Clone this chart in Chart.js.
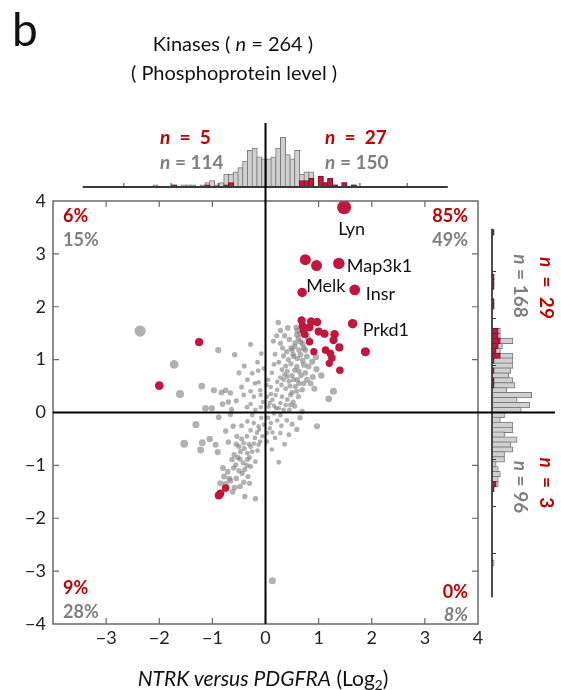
<!DOCTYPE html>
<html><head><meta charset="utf-8">
<script src="https://cdn.jsdelivr.net/npm/chart.js@4.4.1/dist/chart.umd.min.js"></script>
<style>
html,body{margin:0;padding:0;background:#fff;}
#wrap{position:relative;width:561px;height:690px;overflow:hidden;font-family:Lato,"Liberation Sans",sans-serif;}
canvas{position:absolute;}
.t{position:absolute;white-space:nowrap;line-height:1;}
.c{transform:translate(-50%,-50%);}
.l{transform:translate(0,-50%);}
.r{transform:translate(-100%,-50%);}
.rot{transform:translate(-50%,-50%) rotate(90deg);}
.red{color:#C00000;font-weight:bold;font-size:18px;}
.gry{color:#7F7F7F;font-weight:bold;font-size:18px;}
.big{font-size:19px;}
sub{font-size:0.65em;vertical-align:-0.3em;line-height:0;}
</style></head><body>
<div id="wrap">
<canvas id="topHist" width="425" height="70" style="left:53px;top:120px;width:425px;height:70px"></canvas>
<canvas id="rightHist" width="72" height="423" style="left:489px;top:201px;width:72px;height:423px"></canvas>
<canvas id="main" width="561" height="690" style="left:0;top:0;width:561px;height:690px"></canvas>

<div class="t" style="left:12px;top:6px;font-size:46px;color:#111">b</div>
<div class="t c" style="left:233px;top:43px;font-size:20px;color:#111">Kinases ( <i>n</i> = 264 )</div>
<div class="t c" style="left:234px;top:72px;font-size:20px;color:#111">( Phosphoprotein level )</div>

<div class="t l red big" style="left:160px;top:136px"><i>n</i>&nbsp;&nbsp;=&nbsp;&nbsp;5</div>
<div class="t l gry big" style="left:160px;top:161px"><i>n</i> = 114</div>
<div class="t l red big" style="left:325px;top:136px"><i>n</i>&nbsp; =&nbsp; 27</div>
<div class="t l gry big" style="left:325px;top:161px"><i>n</i> = 150</div>

<div class="t rot red big" style="left:547px;top:288px"><i>n</i>&nbsp; =&nbsp; 29</div>
<div class="t rot gry big" style="left:521px;top:286px"><i>n</i> = 168</div>
<div class="t rot red big" style="left:547px;top:483px"><i>n</i>&nbsp; =&nbsp; 3</div>
<div class="t rot gry big" style="left:521px;top:487px"><i>n</i> = 96</div>

<div class="t l red" style="left:63px;top:215px">6%</div>
<div class="t l gry" style="left:63px;top:239px">15%</div>
<div class="t r red" style="left:468px;top:215px">85%</div>
<div class="t r gry" style="left:468px;top:239px">49%</div>
<div class="t l red" style="left:63px;top:587px">9%</div>
<div class="t l gry" style="left:63px;top:611px">28%</div>
<div class="t r red" style="left:468px;top:591px">0%</div>
<div class="t r gry" style="left:468px;top:614px"><i>8%</i></div>

<div class="t c" style="left:263px;top:677px;font-size:21px;color:#111"><i>NTRK versus PDGFRA</i> (Log<sub>2</sub>)</div>
</div>

<script>
// ---------------- DATA ----------------
// Highlighted kinases (red); first entries carry the gene labels
const hitNames = ['Lyn', 'Map3k1', 'Melk', 'Insr', 'Prkd1'];
const hitPts = [
  [1.48,3.88],[1.38,2.82],[0.69,2.27],[1.68,2.32],[1.64,1.68],
  [0.75,2.89],[0.96,2.78],[1.88,1.15],[0.68,1.74],[0.86,1.72],
  [0.97,1.71],[0.70,1.63],[0.83,1.61],[0.74,1.48],[1.00,1.53],
  [1.11,1.49],[1.30,1.48],[1.28,1.37],[0.83,1.34],[0.91,1.15],
  [1.13,1.18],[1.22,1.12],[1.39,1.23],[1.25,1.03],[1.20,0.93],
  [1.40,0.80],[0.72,1.55],
  [-1.25,1.33],[-2.00,0.51],
  [-0.75,-1.43],[-0.88,-1.57],[-0.85,-1.53]
];
// All other kinases (gray)
const otherPts = [
  [0.24,1.70],[0.58,1.61],[0.28,1.55],[0.21,1.45],[0.36,1.45],[0.59,1.47],[0.28,1.31],[0.56,1.32],[0.66,1.34],[-0.28,1.29],
  [-0.89,1.18],[-0.58,1.09],[-1.72,0.91],[-0.08,1.11],[0.50,1.18],[0.63,1.18],[0.72,1.22],[0.34,1.07],[0.43,1.00],[0.53,1.06],
  [0.66,1.09],[0.78,1.06],[0.88,0.96],[0.96,0.82],[0.25,0.95],[0.16,0.91],[0.31,0.81],[0.41,0.78],[0.59,0.87],[0.72,0.90],
  [0.81,0.87],[0.63,0.78],[-0.03,0.83],[-0.14,0.79],[-0.25,0.74],[-0.34,0.62],[-0.13,0.57],[0.02,0.52],[0.34,0.62],[0.44,0.59],
  [0.53,0.62],[0.63,0.55],[0.78,0.62],[0.89,0.67],[0.41,0.68],[0.22,0.43],[0.19,0.33],[0.31,0.30],[0.47,0.33],[0.59,0.40],
  [0.69,0.43],[1.28,0.40],[1.19,0.26],[0.56,0.49],[0.41,0.24],[0.38,0.14],[0.13,0.24],[0.03,0.30],[-0.09,0.33],[-0.22,0.30],
  [-0.28,0.40],[-0.41,0.33],[-0.66,0.37],[-0.75,0.42],[-0.83,0.38],[-0.97,0.42],[-1.61,0.35],[-0.81,0.16],[-0.64,0.06],[-1.13,0.08],
  [-1.01,0.08],[-0.28,0.16],[-0.19,0.05],[-0.09,0.10],[0.06,0.11],[0.16,0.13],[0.25,0.08],[0.34,0.05],[0.47,0.14],[0.69,0.02],
  [-2.36,1.54],
  [0.60,1.55],[0.62,1.40],[0.55,1.25],[0.48,1.22],[0.70,1.30],[0.66,1.50],[0.45,1.38],[0.52,1.10],[0.60,1.02],[0.70,0.98],
  [0.48,0.92],[0.38,0.88],[0.55,0.80],[0.67,0.70],[0.50,0.70],[0.36,0.72],[0.28,0.66],[0.46,0.50],[0.38,0.45],[0.30,0.52],
  [0.62,0.30],[0.52,0.20],[0.28,0.18],[0.20,0.08],[0.10,0.35],[0.08,0.18],[0.45,0.05],[0.55,0.12],[0.75,0.75],[0.85,0.55],
  [0.92,0.45],[0.72,0.55],[0.60,0.62],[0.40,1.15],[0.32,1.22],[0.18,1.10],[0.12,0.75],[0.22,0.58],[0.05,0.62],[0.10,0.48],
  [0.80,1.40],[0.75,1.18],[0.95,1.05],[1.05,0.70],[0.15,1.35],[0.42,1.60],[0.50,0.38],
  [-0.20,0.55],[-0.45,0.48],[-0.10,0.42],[-0.55,0.22],[-0.35,0.10],[-0.05,0.20],[-0.15,0.95],[-0.50,0.75],[-1.20,0.50],[-0.70,0.20],[-0.40,0.88],
  [0.16,-0.02],[-0.66,-0.04],[-0.88,-0.09],[-1.31,-0.23],[-1.53,-0.59],[-1.19,-0.57],[-1.22,-0.71],[-0.94,-0.61],[-0.70,-0.56],[-0.61,-0.26],
  [-0.34,-0.17],[-0.22,-0.20],[-0.13,-0.26],[-0.03,-0.23],[-0.28,-0.34],[-0.16,-0.38],[-0.06,-0.45],[0.03,-0.39],[0.13,-0.38],[0.28,-0.39],
  [0.44,-0.42],[0.59,-0.32],[0.97,-0.26],[0.36,-0.60],[0.25,-0.94],[-0.54,-0.45],[-0.50,-0.64],[-0.41,-0.58],[-0.31,-0.60],[-0.22,-0.59],
  [-0.13,-0.61],[-0.47,-0.74],[-0.34,-0.77],[-0.25,-0.74],[-0.59,-0.80],[-0.63,-0.89],[-0.48,-0.88],[-0.34,-0.89],[-0.19,-0.93],[-0.56,-0.99],
  [-0.39,-1.08],[-0.28,-1.02],[-0.71,-1.12],[-0.44,-1.15],[-0.78,-1.21],[-0.33,-1.21],[-0.66,-1.29],[-0.85,-1.34],[-0.41,-1.32],[-0.30,-1.34],
  [-0.58,-1.42],[-0.39,-1.59],[-0.19,-1.63],[0.13,-3.18],
  [-0.45,-0.50],[-0.35,-0.45],[-0.20,-0.48],[-0.10,-0.55],[-0.55,-0.60],[-0.40,-0.68],[-0.28,-0.65],[-0.15,-0.72],[-0.52,-0.85],[-0.42,-0.95],
  [-0.30,-0.85],[-0.60,-1.05],[-0.50,-1.10],[-0.35,-1.00],[-0.68,-1.25],[-0.55,-1.25],[-0.75,-1.35],[-0.48,-1.40],[-0.62,-1.50],[-0.80,-1.05],
  [-0.90,-0.75],[-1.05,-0.50],[-0.75,-0.35],[-0.45,-0.25],[-0.08,-0.10],[-0.25,-0.05],[-0.12,-0.32],
  [0.05,-0.10],[0.10,-0.20],[0.22,-0.15],[0.30,-0.25],[0.08,-0.30],[0.18,-0.48],[0.40,-0.15],[0.50,-0.22],[0.03,-0.55],[0.12,-0.70],[0.65,-0.10],[0.28,-0.05]
];
// Top histogram (x distribution): bin centers, counts of all kinases, counts of highlighted kinases
const topBinCenters = [-2.33,-1.93,-1.73,-1.63,-1.53,-1.33,-1.23,-1.13,-1.03,-0.93,-0.83,-0.73,-0.63,-0.53,-0.43,-0.33,-0.23,-0.13,-0.03,
  0.07,0.17,0.27,0.37,0.47,0.57,0.67,0.77,0.87,0.97,1.17,1.27,1.37,1.47,1.67,1.87];
const topAllCounts  = [1,1,1,1,1,1,2,3,1,2,6,6,7,9,12,17,18,14,13, 13,14,18,23,15,13,17,6,7,7,5,2,4,1,2,1];
const topHitCounts  = [0,1,0,0,0,0,1,0,0,0,1,2,0,0,0,0,0,0,0, 0,0,0,0,0,0,0,3,3,4,5,2,4,1,2,1];
// Right histogram (y distribution)
const rightBinCenters = [3.8325,2.8875,2.7825,2.6775,2.3625,2.2575,1.7325,1.6275,1.5225,1.4175,1.3125,1.2075,1.1025,0.9975,0.8925,0.7875,0.6825,0.5775,0.4725,0.3675,0.2625,0.1575,0.0525,
  -0.0525,-0.1575,-0.2625,-0.3675,-0.4725,-0.5775,-0.6825,-0.7875,-0.8925,-0.9975,-1.1025,-1.2075,-1.3125,-1.4175,-1.5225,-1.6275,-3.2025];
const rightAllCounts = [1,1,1,1,1,1,4,4,10,5,4,10,10,10,9,8,10,11,7,19,12,18,14,
  6,4,10,10,6,12,9,10,6,6,2,3,4,3,3,1,1];
const rightHitCounts = [1,1,1,1,1,1,3,3,4,3,2,4,1,0,1,0,1,1,0,0,0,0,0,
  0,0,0,0,0,0,0,0,0,0,0,0,0,0,2,1,0];
const axisTicks = [-3,-2,-1,0,1,2,3];

// ---------------- STYLE ----------------
const FONT = 'Lato, "Liberation Sans", sans-serif';
const RED = '#C4163C', RED_EDGE = '#7d0f28';
const GRAY_FILL = '#d0d0d0', GRAY_EDGE = '#7a7a7a';
const fmt = v => v < 0 ? '\u2212' + Math.abs(v) : String(v);
const labelOffsets = {Lyn:[-6,22], Map3k1:[8,3], Melk:[4,-6], Insr:[11,4], Prkd1:[10,7]};
// marker size grows with distance from the origin
const wdist = p => Math.hypot(p.x, 0.4 * p.y);
const rdist = p => Math.hypot(p.x, p.y);

const common = {responsive:false, animation:false, devicePixelRatio:1, events:[],
  plugins:{legend:{display:false}, tooltip:{enabled:false}}};

// ---------------- MAIN SCATTER ----------------
const mainDecor = {
  id:'mainDecor',
  afterDatasetsDraw(chart){
    const {ctx, chartArea:a, scales:{x, y}} = chart;
    ctx.save();
    ctx.strokeStyle = '#6a6a6a'; ctx.lineWidth = 1.5;
    ctx.strokeRect(a.left, a.top, a.right - a.left, a.bottom - a.top);
    ctx.lineWidth = 1.2;
    axisTicks.forEach(v => {
      if (v === 0) return;
      const px = x.getPixelForValue(v), py = y.getPixelForValue(v);
      ctx.beginPath();
      ctx.moveTo(px, a.bottom); ctx.lineTo(px, a.bottom - 6);
      ctx.moveTo(px, a.top); ctx.lineTo(px, a.top + 6);
      ctx.moveTo(a.left, py); ctx.lineTo(a.left + 6, py);
      ctx.moveTo(a.right, py); ctx.lineTo(a.right - 6, py);
      ctx.stroke();
    });
    const x0 = x.getPixelForValue(0), y0 = y.getPixelForValue(0);
    ctx.strokeStyle = '#000'; ctx.lineWidth = 2;
    ctx.beginPath();
    ctx.moveTo(x0, 123); ctx.lineTo(x0, a.bottom);
    ctx.moveTo(a.left, y0); ctx.lineTo(555, y0);
    ctx.stroke();
    ctx.restore();
  },
  afterDraw(chart){
    const {ctx} = chart;
    const meta = chart.getDatasetMeta(0);
    ctx.save();
    ctx.font = '18px ' + FONT; ctx.fillStyle = '#111';
    ctx.textAlign = 'left'; ctx.textBaseline = 'middle';
    hitNames.forEach((name, i) => {
      const el = meta.data[i]; const off = labelOffsets[name];
      ctx.fillText(name, el.x + off[0], el.y + off[1]);
    });
    ctx.restore();
  }
};

new Chart(document.getElementById('main'), {
  type:'scatter',
  data:{datasets:[
    {label:'highlighted', order:0, data:hitPts.map(([x,y]) => ({x,y})),
     backgroundColor:RED, borderWidth:0,
     pointRadius: c => Math.min(7, 1.8 + 1.25 * rdist(c.raw))},
    {label:'kinases', order:1, data:otherPts.map(([x,y]) => ({x,y})),
     backgroundColor:'rgba(125,125,125,0.6)', borderWidth:0,
     pointRadius: c => Math.min(6, 2.2 + 0.9 * Math.pow(wdist(c.raw), 1.5))}
  ]},
  options:{...common,
    layout:{padding:{left:0, right:83, top:201, bottom:36}},
    scales:{
      x:{type:'linear', min:-4, max:4, grid:{display:false, drawTicks:false}, border:{display:false},
         ticks:{stepSize:1, autoSkip:false, maxRotation:0, padding:3, color:'#222', font:{family:FONT, size:18},
                callback:v => v === -4 ? '' : fmt(v)},
         afterFit:s => { s.height = 30; }},
      y:{type:'linear', min:-4, max:4, grid:{display:false, drawTicks:false}, border:{display:false},
         ticks:{stepSize:1, autoSkip:false, padding:7, color:'#222', font:{family:FONT, size:18}, callback:v => fmt(v)},
         afterFit:s => { s.width = 53; }}
    }
  },
  plugins:[mainDecor]
});

// ---------------- TOP HISTOGRAM ----------------
const topDecor = {
  id:'topDecor',
  afterDatasetsDraw(chart){
    const {ctx, scales:{x, y}} = chart;
    const yb = y.getPixelForValue(0);
    ctx.save();
    ctx.strokeStyle = '#3a3a3a'; ctx.lineWidth = 1.8;
    ctx.beginPath();
    ctx.moveTo(x.getPixelForValue(-3.87), yb); ctx.lineTo(x.getPixelForValue(3.86), yb);
    ctx.stroke();
    ctx.lineWidth = 1;
    ctx.beginPath();
    axisTicks.forEach(v => { const px = x.getPixelForValue(v); ctx.moveTo(px, yb); ctx.lineTo(px, yb - 4); });
    ctx.stroke();
    ctx.restore();
  }
};
const topBar = {grouped:false, borderWidth:1, barThickness:5.3};
new Chart(document.getElementById('topHist'), {
  type:'bar',
  data:{datasets:[
    {...topBar, order:0, data:topBinCenters.map((c,i) => ({x:c, y:topHitCounts[i]})),
     backgroundColor:RED, borderColor:RED_EDGE},
    {...topBar, order:1, data:topBinCenters.map((c,i) => ({x:c, y:topAllCounts[i]})),
     backgroundColor:GRAY_FILL, borderColor:GRAY_EDGE}
  ]},
  options:{...common,
    layout:{padding:{left:0, right:0, top:0, bottom:3}},
    scales:{x:{type:'linear', min:-4, max:4, display:false}, y:{min:0, max:31, display:false}}
  },
  plugins:[topDecor]
});

// ---------------- RIGHT HISTOGRAM ----------------
const rightDecor = {
  id:'rightDecor',
  afterDatasetsDraw(chart){
    const {ctx, scales:{x, y}} = chart;
    const xb = x.getPixelForValue(0);
    ctx.save();
    ctx.strokeStyle = '#3a3a3a'; ctx.lineWidth = 1.8;
    ctx.beginPath();
    ctx.moveTo(xb, y.getPixelForValue(3.91)); ctx.lineTo(xb, y.getPixelForValue(-3.93));
    ctx.stroke();
    ctx.lineWidth = 1;
    ctx.beginPath();
    axisTicks.forEach(v => { const py = y.getPixelForValue(v); ctx.moveTo(xb, py); ctx.lineTo(xb + 4, py); });
    ctx.stroke();
    ctx.restore();
  }
};
const rightBar = {grouped:false, borderWidth:1, barThickness:5.55};
new Chart(document.getElementById('rightHist'), {
  type:'bar',
  data:{datasets:[
    {...rightBar, order:0, data:rightBinCenters.map((c,i) => ({y:c, x:rightHitCounts[i]})),
     backgroundColor:RED, borderColor:RED_EDGE},
    {...rightBar, order:1, data:rightBinCenters.map((c,i) => ({y:c, x:rightAllCounts[i]})),
     backgroundColor:GRAY_FILL, borderColor:GRAY_EDGE}
  ]},
  options:{...common, indexAxis:'y',
    layout:{padding:{left:3, right:0, top:0, bottom:0}},
    scales:{y:{type:'linear', min:-4, max:4, display:false}, x:{min:0, max:33, display:false}}
  },
  plugins:[rightDecor]
});
</script>
</body></html>
